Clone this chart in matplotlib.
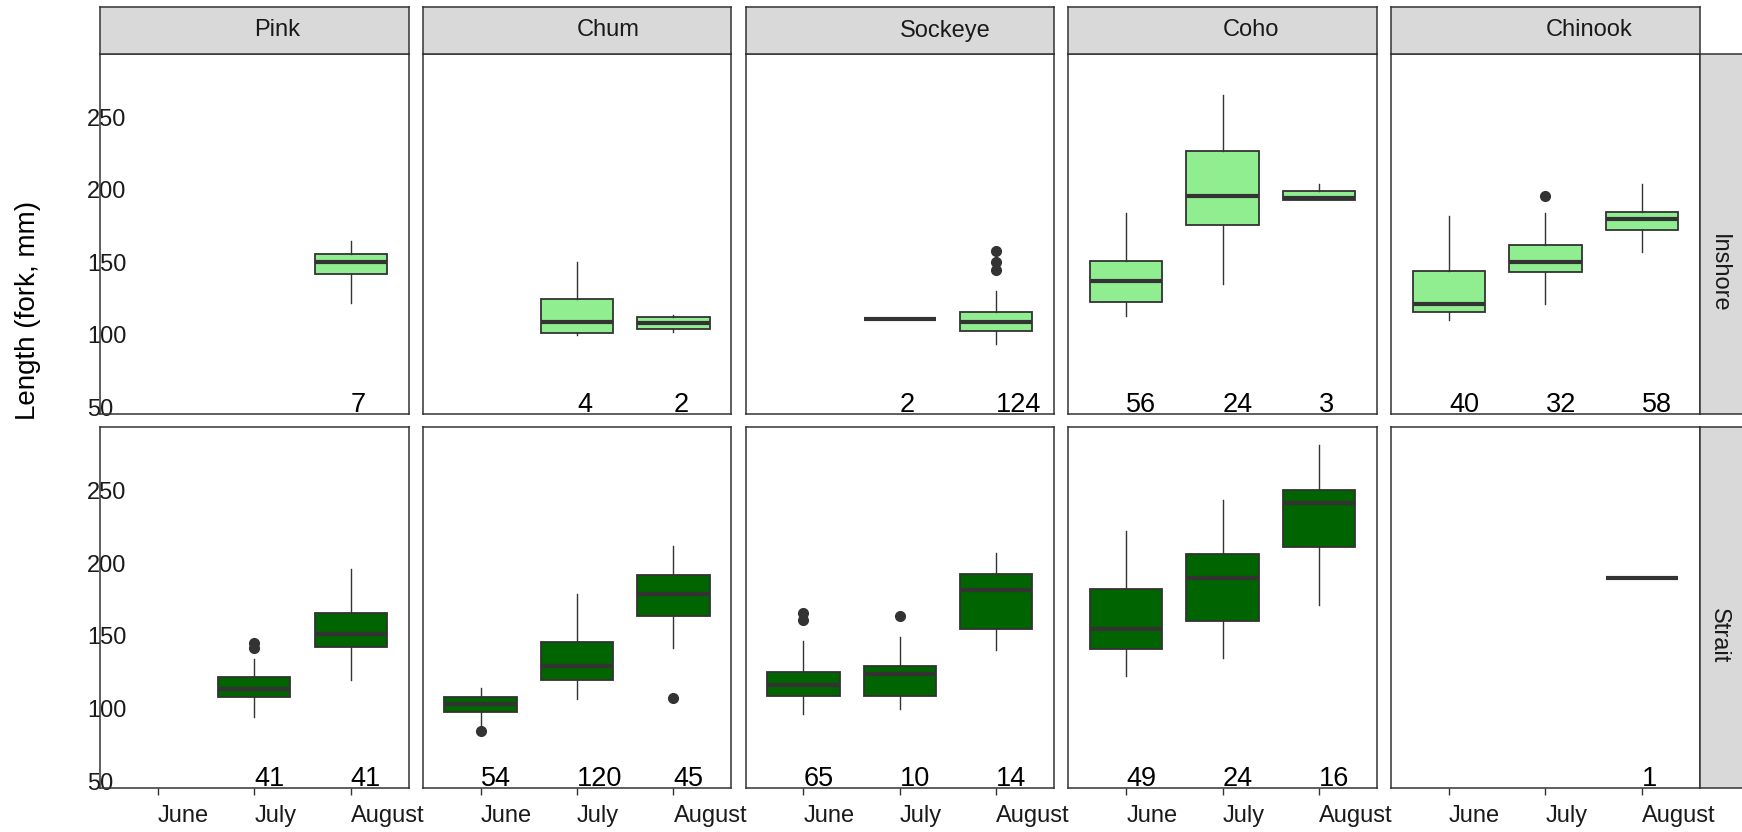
import matplotlib.pyplot as plt

plt.rcParams['font.family'] = ['Liberation Sans', 'DejaVu Sans']

months = ["June", "July", "August"]
species = ["Pink", "Chum", "Sockeye", "Coho", "Chinook"]
regions = ["Inshore", "Strait"]
fills = {"Inshore": "#90EE90", "Strait": "#006400"}

# one entry per box (column-wise)
box_region = ["Inshore"] * 11 + ["Strait"] * 12
box_species = ["Pink", "Chum", "Chum", "Sockeye", "Sockeye", "Coho", "Coho", "Coho",
               "Chinook", "Chinook", "Chinook",
               "Pink", "Pink", "Chum", "Chum", "Chum", "Sockeye", "Sockeye", "Sockeye",
               "Coho", "Coho", "Coho", "Chinook"]
box_month = ["August", "July", "August", "July", "August", "June", "July", "August",
             "June", "July", "August",
             "July", "August", "June", "July", "August", "June", "July", "August",
             "June", "July", "August", "August"]
box_lo = [122, 100, 102, 111, 94, 113, 135, 193, 110, 121, 157,
          94, 120, 89, 106.5, 141.5, 96, 100, 140, 122.5, 134.5, 171, 190]
box_q1 = [142, 101, 104, 111, 103, 123, 175.5, 193, 116, 143, 172,
          108, 142.5, 98, 119.5, 164, 109, 109, 154.5, 141, 160, 211, 190]
box_med = [150, 109, 108, 111, 109, 137, 196, 194, 121, 150, 180,
           113.5, 151, 103.5, 129, 179, 116, 124, 181.5, 155, 190, 241, 190]
box_q3 = [156, 125, 112, 111, 115.5, 151, 227, 199, 144, 162, 185,
          121.5, 166, 108, 145.5, 191.5, 125, 129, 192.5, 182, 206, 250, 190]
box_hi = [165, 150, 114, 111, 130, 184, 265, 204, 182, 184, 204,
          134, 196, 114, 179, 212, 146.5, 149, 207, 222, 243.5, 281, 190]
box_n = [7, 4, 2, 2, 124, 56, 24, 3, 40, 32, 58,
         41, 41, 54, 120, 45, 65, 10, 14, 49, 24, 16, 1]
box_fliers = [[], [], [], [], [145, 150, 158], [], [], [], [], [196], [],
              [142, 145], [], [84.5], [], [107], [161, 166], [164], [], [], [], [], []]

W, H = 1742, 832
fig = plt.figure(figsize=(W / 100, H / 100), dpi=100)

lefts = [100 + i * 322.8 for i in range(5)]
pw = 308.5
rows = [(54, 414), (427, 788)]
edge = "#333333"

def rect(l, t, w, b):
    return [l / W, 1 - b / H, w / W, (b - t) / H]

for r, region in enumerate(regions):
    t, b = rows[r]
    for c, sp in enumerate(species):
        ax = fig.add_axes(rect(lefts[c], t, pw, b))
        stats, pos = [], []
        for i in range(len(box_n)):
            if box_region[i] == region and box_species[i] == sp:
                stats.append(dict(whislo=box_lo[i], q1=box_q1[i], med=box_med[i],
                                  q3=box_q3[i], whishi=box_hi[i], fliers=box_fliers[i]))
                pos.append(months.index(box_month[i]) + 1)
                ax.text(months.index(box_month[i]) + 1, 0.006, str(box_n[i]),
                        transform=ax.get_xaxis_transform(), ha='left', va='baseline',
                        fontsize=19.5, color='black', zorder=5)
        if stats:
            ax.bxp(stats, positions=pos, widths=0.75, patch_artist=True, showcaps=False,
                   boxprops=dict(facecolor=fills[region], edgecolor=edge, linewidth=1.3),
                   medianprops=dict(color=edge, linewidth=3.0, solid_capstyle='butt'),
                   whiskerprops=dict(color=edge, linewidth=1.0),
                   flierprops=dict(marker='o', markerfacecolor=edge, markeredgecolor=edge,
                                   markersize=7))
        ax.set_xlim(0.4, 3.6)
        ax.set_ylim(45.5, 293.5)
        ax.set_yticks([50, 100, 150, 200, 250])
        ax.set_xticks([1, 2, 3])
        for s in ax.spines.values():
            s.set_color(edge)
            s.set_linewidth(1.1)
        if r == 1:
            ax.set_xticklabels(months, fontsize=17, color='#1a1a1a', ha='left')
            ax.tick_params(axis='x', length=5, width=1.0, color=edge, pad=7)
        else:
            ax.tick_params(axis='x', length=0, labelbottom=False)
        if c == 0:
            ax.set_yticklabels([50, 100, 150, 200, 250], fontsize=17, color='#1a1a1a')
            for lbl in ax.get_yticklabels():
                lbl.set_ha('left')
            ax.tick_params(axis='y', length=0, pad=9.4)
        else:
            ax.tick_params(axis='y', length=0, labelleft=False)

    # row strip on the right
    sax = fig.add_axes(rect(1700, t, 60, b))
    sax.set_facecolor('#D9D9D9')
    sax.set_xticks([])
    sax.set_yticks([])
    for s in sax.spines.values():
        s.set_color(edge)
        s.set_linewidth(1.1)
    fig.text(1719 / W, 1 - ((t + b) / 2) / H, region, rotation=270, ha='center', va='top',
             fontsize=17, color='#1a1a1a')

# column strips on top
for c, sp in enumerate(species):
    sax = fig.add_axes(rect(lefts[c], 7, pw, 54))
    sax.set_facecolor('#D9D9D9')
    sax.set_xticks([])
    sax.set_yticks([])
    for s in sax.spines.values():
        s.set_color(edge)
        s.set_linewidth(1.1)
    sax.text(0.5, 0.5, sp, transform=sax.transAxes, ha='left', va='center',
             fontsize=17, color='#1a1a1a')

fig.text(28 / W, 1 - 420 / H, "Length (fork, mm)", rotation=90, ha='center', va='bottom',
         fontsize=20, color='black')

fig.savefig("out.png", dpi=100)
